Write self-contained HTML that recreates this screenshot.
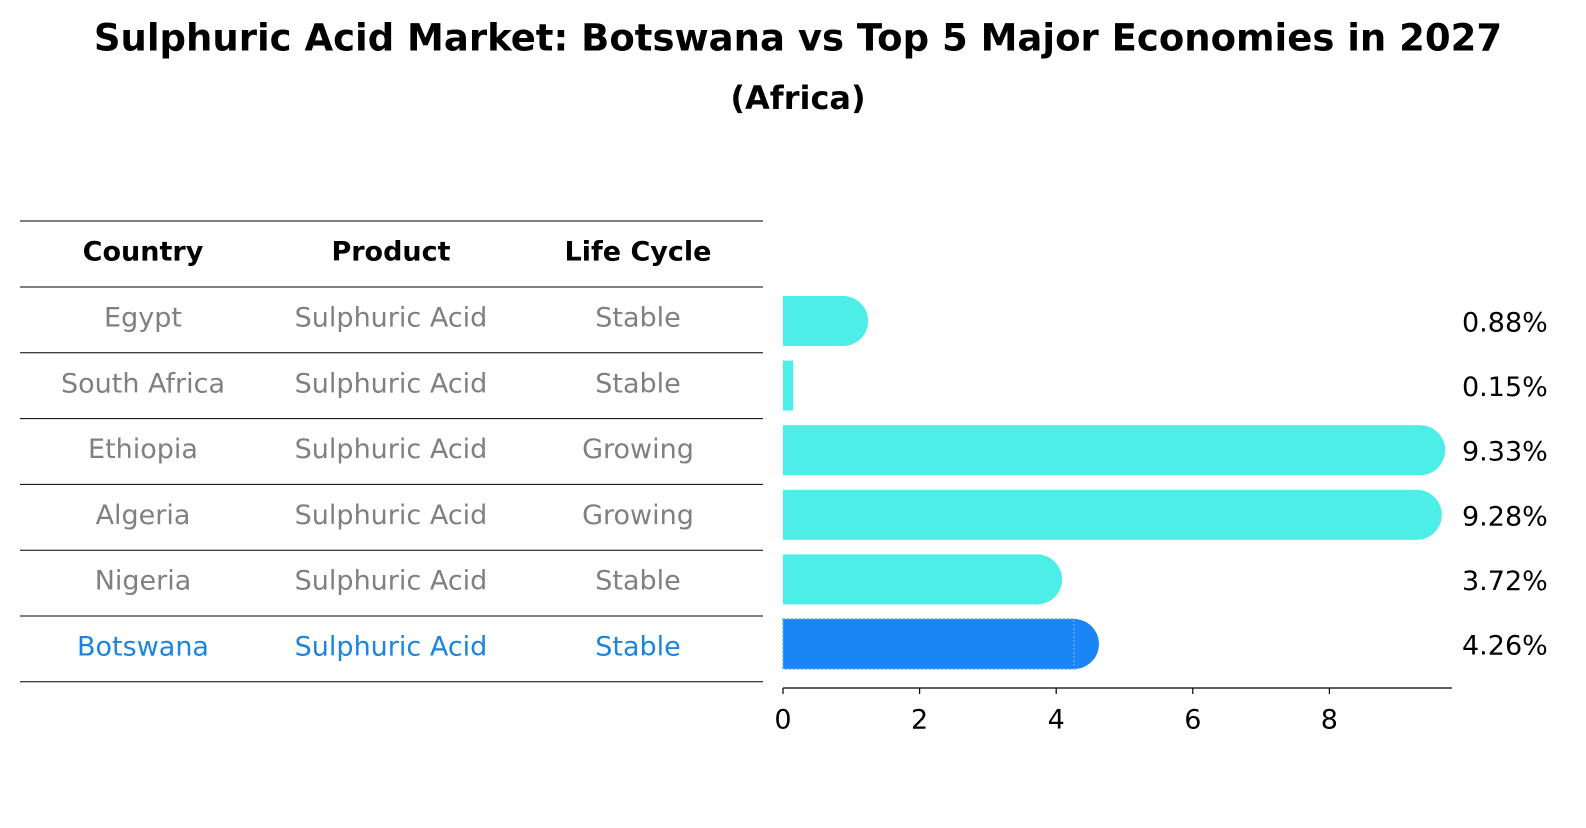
<!DOCTYPE html>
<html><head><meta charset="utf-8"><style>
body{margin:0;background:#fff;width:1586px;height:823px;overflow:hidden;font-family:"Liberation Sans","DejaVu Sans",sans-serif;}
</style></head><body>
<svg width="1586" height="823" viewBox="0 0 1586 823" font-family="DejaVu Sans, Liberation Sans, sans-serif">
<text x="798" y="38" text-anchor="middle" dominant-baseline="central" font-size="37" font-weight="bold">Sulphuric Acid Market: Botswana vs Top 5 Major Economies in 2027</text>
<text x="798" y="98" text-anchor="middle" dominant-baseline="central" font-size="32" font-weight="bold">(Africa)</text>
<g id="table"></g>
<g id="bars"></g>
<g id="axis"></g>
</svg>
<script>
const countries=["Egypt","South Africa","Ethiopia","Algeria","Nigeria","Botswana"];
const products=["Sulphuric Acid","Sulphuric Acid","Sulphuric Acid","Sulphuric Acid","Sulphuric Acid","Sulphuric Acid"];
const lifecycles=["Stable","Stable","Growing","Growing","Stable","Stable"];
const values=[0.88,0.15,9.33,9.28,3.72,4.26];
const ticks=[0,2,4,6,8];
const NS="http://www.w3.org/2000/svg";
function mk(t,a,p){const e=document.createElementNS(NS,t);for(const k in a)e.setAttribute(k,a[k]);p.appendChild(e);return e;}
const tbl=document.getElementById('table'),bars=document.getElementById('bars'),ax=document.getElementById('axis');
const x0=783,ppu=68.3;const sx=v=>x0+v*ppu;
const rowY=i=>287+i*65.8;
const colX=[143,391,638];
const lineYs=[221,287];for(let i=1;i<=6;i++)lineYs.push(287+i*65.8);
lineYs.forEach((y,i)=>{const l=mk('line',{x1:20,x2:763,y1:y,y2:y,stroke:'#000','stroke-width':1},tbl);});
["Country","Product","Life Cycle"].forEach((h,j)=>{const t=mk('text',{x:colX[j],y:252,'text-anchor':'middle','dominant-baseline':'central','font-size':27,'font-weight':'bold'},tbl);t.textContent=h;});
countries.forEach((c,i)=>{
 const col=c==="Botswana"?"#1a85e0":"#808080";
 [c,products[i],lifecycles[i]].forEach((s,j)=>{const t=mk('text',{x:colX[j],y:rowY(i)+31,'text-anchor':'middle','dominant-baseline':'central','font-size':27,fill:col},tbl);t.textContent=s;});
 const cy=321+i*64.6,h=50,v=values[i],xe=sx(v);
 const fill=c==="Botswana"?"#1a85f5":"#4deee8";
 const g=mk('g',{},bars);
 mk('rect',{x:x0,y:cy-h/2,width:xe-x0,height:h,fill:fill},g);
 if(v>0.5)mk('circle',{cx:xe,cy:cy,r:h/2,fill:fill},g);
 if(c==="Botswana")mk('rect',{x:x0,y:cy-h/2,width:xe-x0,height:h,fill:'none',stroke:'#5aa8ff','stroke-width':1.5,'stroke-dasharray':'2,2'},g);
 const t=mk('text',{x:1462,y:cy+2,'dominant-baseline':'central','font-size':27},bars);t.textContent=v.toFixed(2)+'%';
});
mk('line',{x1:x0,x2:1452,y1:688,y2:688,stroke:'#000','stroke-width':1.2},ax);
ticks.forEach(v=>{mk('line',{x1:sx(v),x2:sx(v),y1:688,y2:694,stroke:'#000','stroke-width':1.2},ax);const t=mk('text',{x:sx(v),y:720,'text-anchor':'middle','dominant-baseline':'central','font-size':27},ax);t.textContent=v;});
</script>
</body></html>
